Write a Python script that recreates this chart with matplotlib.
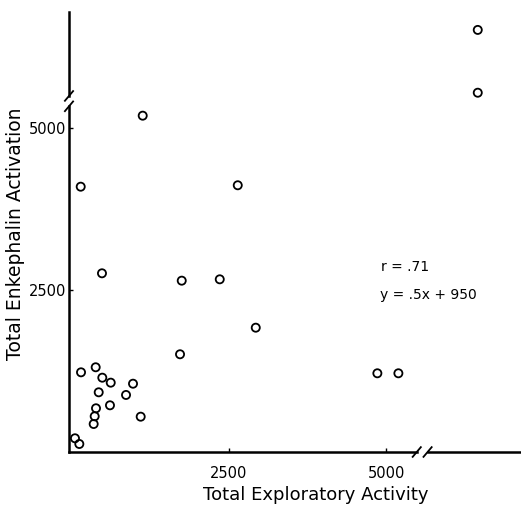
import matplotlib
matplotlib.use("Agg")
import matplotlib.pyplot as plt

# values (last two points sit past the axis breaks)
exploratory = [57, 126, 153, 386, 491, 625, 434, 979, 868, 391, 613, 370, 354,
               1101, 1726, 1133, 148, 2643, 486, 1753, 2357, 2929, 4861, 5195,
               6456, 6456]
enkephalin = [207, 119, 1227, 1305, 1144, 1067, 918, 1051, 877, 671, 717, 547,
              428, 541, 1506, 5195, 4097, 4119, 2758, 2644, 2665, 1917, 1212,
              1212, 6521, 5550]

x_ticks = [2500, 5000]
y_ticks = [2500, 5000]
x_break = (5487, 5659)
y_break = (5340, 5500)

plt.rcParams['font.family'] = ['DejaVu Sans']

fig = plt.figure(figsize=(5.21, 5.12), dpi=100)
ax = fig.add_axes([69 / 521, 60 / 512, 452 / 521, 440 / 512])

ax.scatter(exploratory, enkephalin, s=34, facecolors='none', edgecolors='black',
           linewidths=1.3, zorder=3)

ax.set_xlim(-38, 7143)
ax.set_ylim(-5, 6798)

for s in ax.spines.values():
    s.set_visible(False)

# axis lines drawn with gaps for the breaks
lw = 1.8
xmin, xmax = ax.get_xlim()
ymin, ymax = ax.get_ylim()
ax.plot([xmin, x_break[0]], [ymin, ymin], color='black', lw=lw, clip_on=False)
ax.plot([x_break[1], xmax], [ymin, ymin], color='black', lw=lw, clip_on=False)
ax.plot([xmin, xmin], [ymin, y_break[0]], color='black', lw=lw, clip_on=False)
ax.plot([xmin, xmin], [y_break[1], ymax], color='black', lw=lw, clip_on=False)

# slash marks at the breaks
dx, dy = 65, 75
for bx in x_break:
    ax.plot([bx - dx, bx + dx], [ymin - dy, ymin + dy], color='black', lw=1.3,
            clip_on=False)
for by in y_break:
    ax.plot([xmin - dx, xmin + dx], [by - dy, by + dy], color='black', lw=1.3,
            clip_on=False)

ax.set_xticks(x_ticks)
ax.set_yticks(y_ticks)
ax.tick_params(axis='x', direction='in', length=3, width=1, pad=10, labelsize=10.5)
ax.tick_params(axis='y', direction='in', length=3, width=1, pad=2, labelsize=10.5)

ax.set_xlabel("Total Exploratory Activity", fontsize=13)
ax.xaxis.set_label_coords(0.546, -0.078)
ax.set_ylabel("Total Enkephalin Activation", fontsize=13.5)
ax.yaxis.set_label_coords(-0.098, 0.495)

ax.text(4920, 2856, "r = .71", fontsize=10, va='center', ha='left')
ax.text(4900, 2423, "y = .5x + 950", fontsize=10, va='center', ha='left')

fig.savefig("out.png", dpi=100)
